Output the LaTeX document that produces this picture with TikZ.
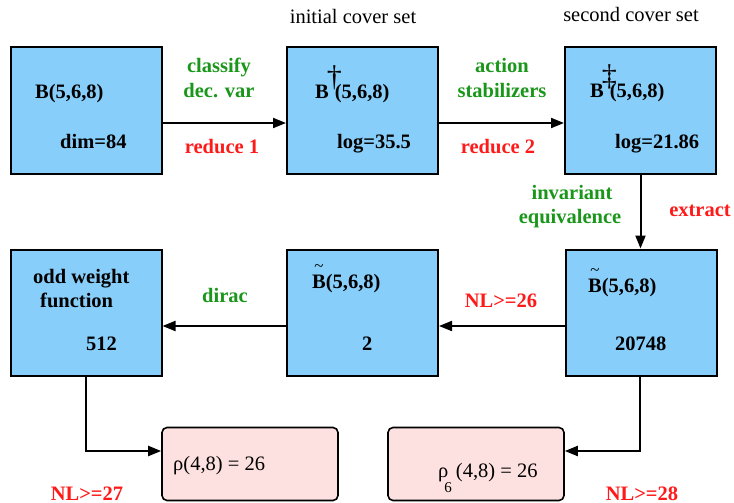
\documentclass[tikz,border=0pt]{standalone}
\usepackage{fontspec}
\setmainfont{Liberation Serif}[BoldFont={Liberation Serif Bold}, ItalicFont={Liberation Serif Italic}]
\usetikzlibrary{arrows.meta}
\definecolor{boxblue}{HTML}{87CEFA}
\definecolor{boxpink}{HTML}{FDE0E0}
\definecolor{lblgreen}{HTML}{1A961A}
\definecolor{lblred}{HTML}{FF1A1A}
\newcommand\tildeB{\makebox[0pt][l]{\makebox[13.7pt]{\raisebox{17pt}{\fontsize{17}{17}\selectfont\mdseries\textasciitilde}}}B}
\newcommand\markedB[1]{B\kern-2pt\makebox[8pt][l]{\raisebox{13pt}{\fontsize{30}{30}\selectfont\mdseries #1}}}
\begin{document}
\begin{tikzpicture}[x=1pt,y=-1pt,
  bluebox/.style={draw=black, line width=2pt, fill=boxblue, minimum width=151pt, minimum height=126pt, inner sep=0pt},
  pinkbox/.style={draw=black, line width=1.6pt, fill=boxpink, rounded corners=5pt, minimum width=176pt, minimum height=73pt, inner sep=0pt},
  txt/.style={inner sep=0pt, font=\fontsize{20.5}{23}\selectfont\bfseries, anchor=base west},
  plain/.style={inner sep=0pt, font=\fontsize{20.5}{23}\selectfont, anchor=base west},
  title/.style={inner sep=0pt, font=\fontsize{20.5}{23}\selectfont, anchor=base},
  glbl/.style={inner sep=0pt, font=\fontsize{20.5}{23}\selectfont\bfseries, text=lblgreen, anchor=base},
  rlbl/.style={inner sep=0pt, font=\fontsize{20.5}{23}\selectfont\bfseries, text=lblred, anchor=base},
  conn/.style={line width=2pt, -{Triangle[length=13pt,width=10pt]}}
]
\useasboundingbox (0,0) rectangle (734,503);

% boxes
\node[bluebox] (b1) at (86,110.5) {};
\node[bluebox] (b2) at (362.5,110.5) {};
\node[bluebox] (b3) at (640.5,110.5) {};
\node[bluebox] (b4) at (86,312.5) {};
\node[bluebox] (b5) at (362.5,312.5) {};
\node[bluebox] (b6) at (641,312.5) {};
\node[pinkbox] (p1) at (250,464) {};
\node[pinkbox] (p2) at (476,464) {};

% box texts
\node[txt] (t1a) at (35,99) {B(5,6,8)};
\node[txt] (t1b) at (60,148) {dim=84};
\node[txt] (t2a) at (315,99) {\markedB{†}(5,6,8)};
\node[txt] (t2b) at (337,148) {log=35.5};
\node[txt] (t3a) at (590,98) {\markedB{‡}(5,6,8)};
\node[txt] (t3b) at (615,148) {log=21.86};
\node[txt] (t4a) at (33,283) {odd weight};
\node[txt] (t4b) at (40,307) {function};
\node[txt] (t4c) at (86,350) {512};
\node[txt] (t5a) at (312,288) {\tildeB(5,6,8)};
\node[txt] (t5b) at (362,350) {2};
\node[txt] (t6a) at (588,292) {\tildeB(5,6,8)};
\node[txt] (t6b) at (615,350) {20748};
\node[plain] (q1) at (173,470) {ρ(4,8) = 26};
\node[plain] (q2) at (438,477) {ρ\kern-4pt\raisebox{-15pt}{\fontsize{15}{15}\selectfont 6}\kern4pt(4,8) = 26};

% titles
\node[title] (h1) at (353,24) {initial cover set};
\node[title] (h2) at (631,22) {second cover set};

% connector labels
\node[glbl] (l1) at (219,73) {classify};
\node[glbl] (l2) at (219,98) {dec. var};
\node[rlbl] (l3) at (222,153) {reduce 1};
\node[glbl] (l4) at (502,73) {action};
\node[glbl] (l5) at (502,98) {stabilizers};
\node[rlbl] (l6) at (498,153) {reduce 2};
\node[glbl] (l7) at (572,199) {invariant};
\node[glbl] (l8) at (570,223) {equivalence};
\node[rlbl] (l9) at (700,216) {extract};
\node[glbl] (l10) at (225,302) {dirac};
\node[rlbl] (l11) at (501,307) {NL>=26};
\node[rlbl] (l12) at (87,500) {NL>=27};
\node[rlbl] (l13) at (642,500) {NL>=28};

% connectors
\draw[conn] ([yshift=-12.5pt]b1.east) -- ([yshift=-12.5pt]b2.west);
\draw[conn] ([yshift=-12.5pt]b2.east) -- ([yshift=-12.5pt]b3.west);
\draw[conn] (b3.south) -- (b3.south |- b6.north);
\draw[conn] ([yshift=-13.5pt]b6.west) -- ([yshift=-13.5pt]b5.east);
\draw[conn] ([yshift=-13.5pt]b5.west) -- ([yshift=-13.5pt]b4.east);
\draw[conn] (b4.south) |- ([yshift=13pt]p1.west);
\draw[conn] ([xshift=-1pt]b6.south) |- ([yshift=13pt]p2.east);
\end{tikzpicture}
\end{document}
